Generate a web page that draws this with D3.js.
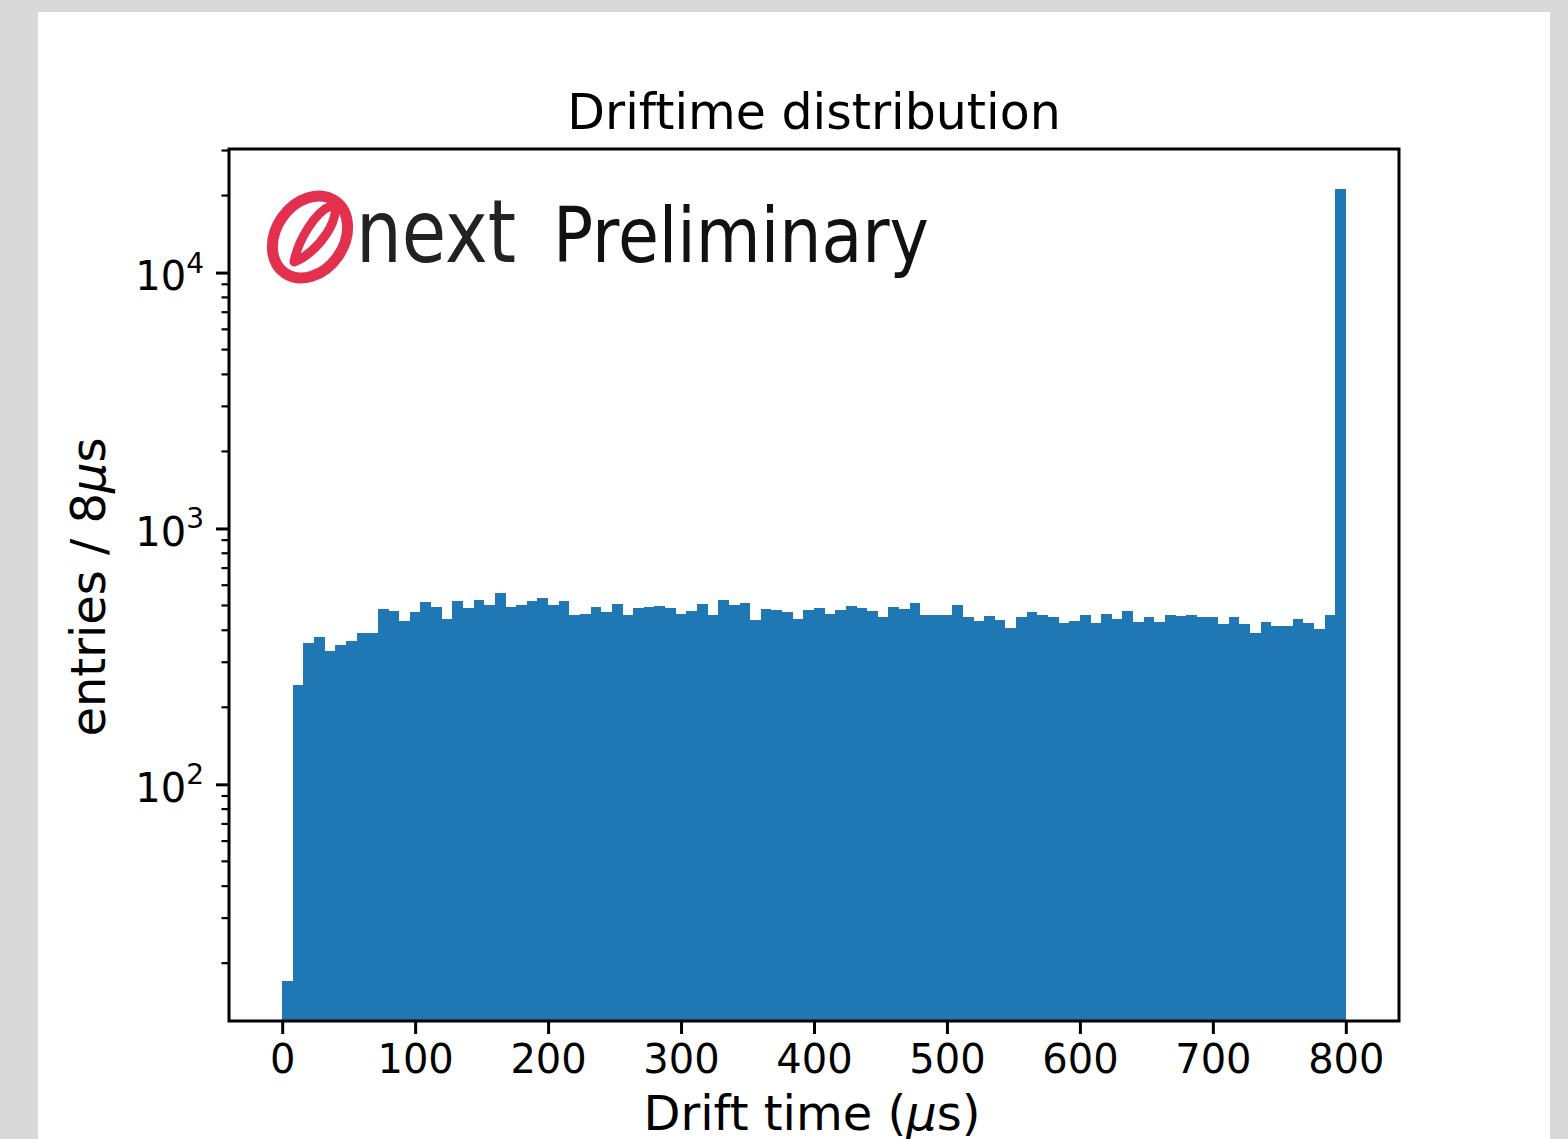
<!DOCTYPE html>
<html>
<head>
<meta charset="utf-8">
<script src="https://cdn.jsdelivr.net/npm/d3@7"></script>
<style>
  body { margin: 0; background: #d9d9d9; }
  text { font-family: "DejaVu Sans", sans-serif; }
</style>
</head>
<body>
<script>
// histogram data: 100 bins of 8 us between 0 and 800 us
var binWidth = 8;
var binStart = d3.range(0, 800, binWidth);
var counts = [
  17, 244, 356, 375, 331, 349, 362, 389, 392, 483,
  474, 433, 470, 514, 491, 441, 519, 487, 524, 500,
  557, 491, 500, 519, 537, 500, 519, 461, 465, 491,
  470, 505, 461, 487, 491, 496, 487, 465, 474, 505,
  457, 524, 500, 509, 437, 483, 478, 470, 441, 478,
  487, 465, 478, 496, 487, 474, 449, 491, 483, 509,
  457, 457, 461, 500, 449, 433, 453, 437, 410, 449,
  470, 461, 449, 426, 433, 457, 426, 465, 441, 474,
  430, 449, 430, 461, 453, 461, 449, 449, 422, 449,
  422, 392, 430, 414, 414, 441, 426, 406, 461, 21300
];
var xTicks = [0, 100, 200, 300, 400, 500, 600, 700, 800];
var yMajor = [100, 1000, 10000];
var yMajorExp = ["2", "3", "4"];

var W = 1568, H = 1139;
var margin = {top: 149, right: 169, bottom: 118, left: 229},
    width = W - margin.left - margin.right,
    height = H - margin.top - margin.bottom;

var svg = d3.select("body").append("svg")
    .attr("width", W)
    .attr("height", H);

// white card on the grey frame
svg.append("rect").attr("x", 38).attr("y", 12)
    .attr("width", 1512).attr("height", H - 12).attr("fill", "#fff");

var g = svg.append("g")
    .attr("transform", "translate(" + margin.left + "," + margin.top + ")");

var x = d3.scaleLinear().domain([-40, 840]).range([0, width]);
var y = d3.scaleLog().domain([Math.pow(10, 1.075), Math.pow(10, 4.483)]).range([height, 0]);

// bars
g.selectAll(".bar")
    .data(counts)
    .enter().append("rect")
    .attr("class", "bar")
    .attr("x", function (d, i) { return x(binStart[i]); })
    .attr("width", function (d, i) { return x(binStart[i] + binWidth) - x(binStart[i]); })
    .attr("y", function (d) { return y(d); })
    .attr("height", function (d) { return height - y(d); })
    .attr("fill", "#1f77b4")
    .attr("shape-rendering", "crispEdges");

// x axis
var xAxis = g.append("g")
    .attr("transform", "translate(0," + height + ")")
    .call(d3.axisBottom(x).tickValues(xTicks).tickSize(13).tickPadding(11));
xAxis.select(".domain").remove();
xAxis.selectAll(".tick line").attr("stroke", "#000").attr("stroke-width", 3);
xAxis.selectAll(".tick text").attr("font-size", 40).attr("fill", "#000")
    .attr("font-family", "DejaVu Sans");

// y axis, major ticks
var yAxis = g.append("g")
    .call(d3.axisLeft(y).tickValues(yMajor).tickSize(13).tickPadding(12).tickFormat(""));
yAxis.select(".domain").remove();
yAxis.selectAll(".tick line").attr("stroke", "#000").attr("stroke-width", 3);
yAxis.selectAll(".tick text").each(function (d, i) {
  var t = d3.select(this).attr("font-size", 40).attr("fill", "#000")
      .attr("font-family", "DejaVu Sans").attr("dy", "0.42em");
  t.append("tspan").text("10");
  t.append("tspan").attr("font-size", 28).attr("dy", "-0.62em").text(yMajorExp[i]);
});

// y minor ticks
var yMinor = [];
[10, 100, 1000, 10000].forEach(function (dec) {
  for (var k = 2; k <= 9; k++) {
    var v = k * dec;
    if (v >= y.domain()[0] && v <= y.domain()[1]) yMinor.push(v);
  }
});
g.selectAll(".minor")
    .data(yMinor)
    .enter().append("line")
    .attr("x1", -7.5).attr("x2", 0)
    .attr("y1", function (d) { return y(d); })
    .attr("y2", function (d) { return y(d); })
    .attr("stroke", "#000").attr("stroke-width", 2.2);

// frame
g.append("rect")
    .attr("width", width).attr("height", height)
    .attr("fill", "none").attr("stroke", "#000").attr("stroke-width", 3);

// title and labels
svg.append("text")
    .attr("x", margin.left + width / 2).attr("y", 129)
    .attr("text-anchor", "middle").attr("font-size", 49)
    .text("Driftime distribution");

var xl = svg.append("text")
    .attr("x", margin.left + width / 2 - 2).attr("y", 1130)
    .attr("text-anchor", "middle").attr("font-size", 48);
xl.append("tspan").text("Drift time (");
xl.append("tspan").attr("font-style", "italic").text("μ");
xl.append("tspan").text("s)");

var yl = svg.append("text")
    .attr("transform", "translate(105," + (margin.top + height / 2 + 2) + ") rotate(-90)")
    .attr("text-anchor", "middle").attr("font-size", 48);
yl.append("tspan").text("entries / 8");
yl.append("tspan").attr("font-style", "italic").text("μ");
yl.append("tspan").text("s");

// NEXT Preliminary logo
var logo = svg.append("g");
logo.append("ellipse")
    .attr("cx", 310).attr("cy", 237).attr("rx", 34).attr("ry", 44)
    .attr("transform", "rotate(35 310 237)")
    .attr("fill", "none").attr("stroke", "#e3304f").attr("stroke-width", 11);
logo.append("path")
    .attr("d", "M 294 262 C 298 240, 316 211, 331 206 C 338 204, 336 219, 327 233 C 318 247, 305 258, 294 262 Z")
    .attr("fill", "none").attr("stroke", "#e3304f").attr("stroke-width", 9).attr("stroke-linejoin", "round");
logo.append("text")
    .attr("x", 356).attr("y", 262).attr("font-size", 88)
    .attr("textLength", 160).attr("lengthAdjust", "spacingAndGlyphs")
    .attr("fill", "#222").text("next");
logo.append("text")
    .attr("x", 553).attr("y", 262).attr("font-size", 76)
    .attr("textLength", 376).attr("lengthAdjust", "spacingAndGlyphs")
    .attr("fill", "#111").text("Preliminary");
</script>
</body>
</html>
